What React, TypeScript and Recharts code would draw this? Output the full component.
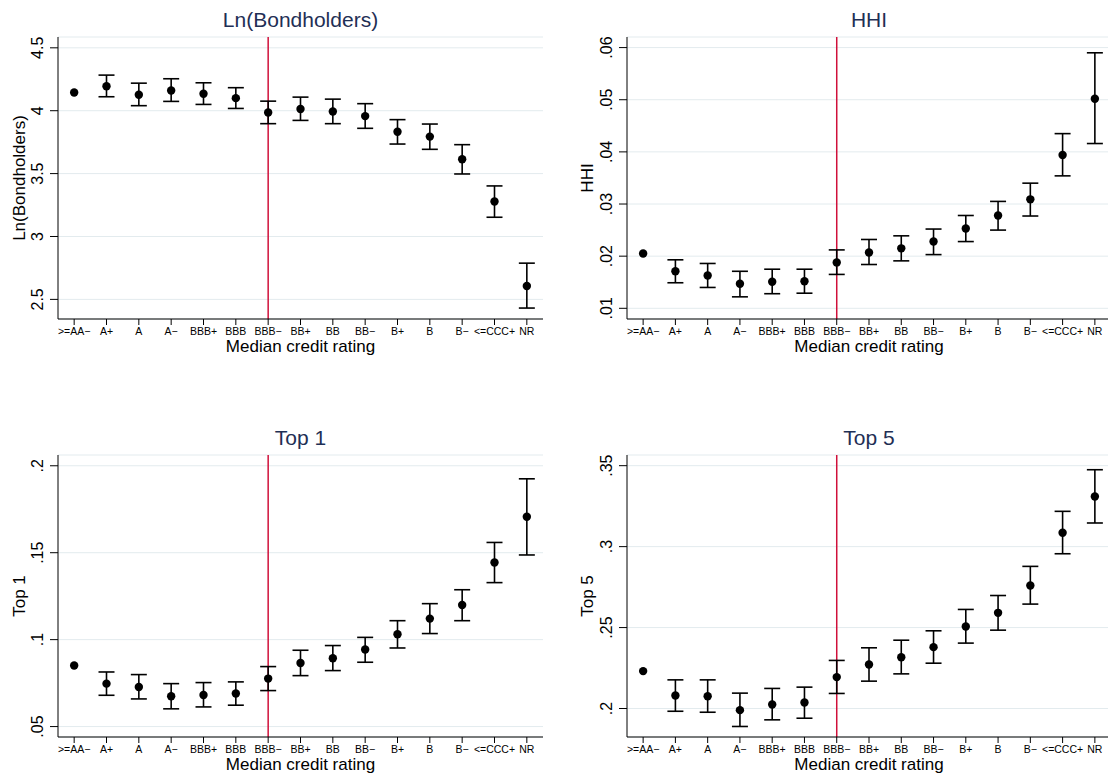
import React from "react";
import {
  ComposedChart,
  Scatter,
  XAxis,
  YAxis,
  CartesianGrid,
  ErrorBar,
  ReferenceLine,
} from "recharts";

// Credit rating buckets along the x axis
const ratings = [">=AA−", "A+", "A", "A−", "BBB+", "BBB", "BBB−", "BB+", "BB", "BB−", "B+", "B", "B−", "<=CCC+", "NR"];
const cutoffIndex = 6; // BBB− : investment-grade boundary

// Ln(Bondholders)
const bondEst = [4.145, 4.195, 4.127, 4.161, 4.135, 4.1, 3.986, 4.013, 3.994, 3.957, 3.833, 3.794, 3.614, 3.278, 2.606];
const bondLo = [null, 4.111, 4.04, 4.074, 4.05, 4.018, 3.897, 3.923, 3.897, 3.86, 3.735, 3.693, 3.497, 3.153, 2.431];
const bondHi = [null, 4.283, 4.219, 4.254, 4.222, 4.183, 4.076, 4.108, 4.092, 4.056, 3.929, 3.894, 3.73, 3.402, 2.788];
const bondTicks = [2.5, 3, 3.5, 4, 4.5];
const bondTickLabels = ["2.5", "3", "3.5", "4", "4.5"];

// HHI
const hhiEst = [0.0205, 0.0171, 0.0163, 0.0147, 0.0151, 0.0152, 0.0188, 0.0207, 0.0215, 0.0228, 0.0253, 0.0278, 0.0309, 0.0394, 0.0502];
const hhiLo = [null, 0.0149, 0.014, 0.0122, 0.0128, 0.0129, 0.0165, 0.0184, 0.0191, 0.0203, 0.0228, 0.025, 0.0277, 0.0354, 0.0416];
const hhiHi = [null, 0.0193, 0.0186, 0.0171, 0.0175, 0.0175, 0.0212, 0.0232, 0.0239, 0.0252, 0.0278, 0.0305, 0.034, 0.0435, 0.059];
const hhiTicks = [0.01, 0.02, 0.03, 0.04, 0.05, 0.06];
const hhiTickLabels = [".01", ".02", ".03", ".04", ".05", ".06"];

// Top 1
const top1Est = [0.0851, 0.0747, 0.0728, 0.0674, 0.0682, 0.069, 0.0776, 0.0866, 0.0893, 0.0943, 0.1031, 0.1121, 0.1199, 0.1444, 0.1707];
const top1Lo = [null, 0.068, 0.0659, 0.0602, 0.0613, 0.0623, 0.0707, 0.0793, 0.0822, 0.087, 0.0952, 0.1035, 0.1109, 0.1328, 0.1487];
const top1Hi = [null, 0.0814, 0.0799, 0.0747, 0.0753, 0.0757, 0.0845, 0.0939, 0.0966, 0.1013, 0.1109, 0.1207, 0.1287, 0.1559, 0.1925];
const top1Ticks = [0.05, 0.1, 0.15, 0.2];
const top1TickLabels = [".05", ".1", ".15", ".2"];

// Top 5
const top5Est = [0.2231, 0.208, 0.2076, 0.199, 0.2025, 0.2037, 0.2194, 0.2272, 0.2317, 0.2379, 0.2507, 0.2591, 0.276, 0.3086, 0.331];
const top5Lo = [null, 0.1983, 0.1977, 0.1889, 0.193, 0.194, 0.2093, 0.2169, 0.2214, 0.228, 0.2404, 0.2484, 0.2645, 0.2956, 0.3146];
const top5Hi = [null, 0.2177, 0.2177, 0.2095, 0.2124, 0.2132, 0.2297, 0.2375, 0.2422, 0.248, 0.2612, 0.2698, 0.2878, 0.3218, 0.3475];
const top5Ticks = [0.2, 0.25, 0.3, 0.35];
const top5TickLabels = [".2", ".25", ".3", ".35"];

const FONT = "'Liberation Sans', Arial, Helvetica, sans-serif";
const TITLE_COLOR = "#1f2f55";
const GRID_COLOR = "#e3ebee";
const CUT_COLOR = "#d0103a";
const xTicks = ratings.map((_, i) => i);

type PanelProps = {
  left: number;
  top: number;
  width: number;
  yAxisWidth: number;
  marginRight: number;
  ylabel: string;
  ylabelOffset: number;
  est: number[];
  lo: (number | null)[];
  hi: (number | null)[];
  domain: [number, number];
  ticks: number[];
  tickLabels: string[];
};

const HEIGHT = 362;

function Panel(p: PanelProps) {
  const rows = p.est.map((v, i) => ({
    x: i,
    y: v,
    err: p.lo[i] == null || p.hi[i] == null ? undefined : [v - (p.lo[i] as number), (p.hi[i] as number) - v],
  }));
  const labelFor = (v: number) => {
    const k = p.ticks.findIndex((t) => Math.abs(t - v) < 1e-9);
    return k >= 0 ? p.tickLabels[k] : String(v);
  };
  const YTick = (props: any) => {
    const { x, y, payload } = props;
    return (
      <text
        transform={`translate(${x - 5},${y}) rotate(-90)`}
        textAnchor="middle"
        fontSize={16}
        fill="#000"
        fontFamily={FONT}
      >
        {labelFor(payload.value)}
      </text>
    );
  };
  return (
    <div style={{ position: "absolute", left: p.left, top: p.top }}>
      <ComposedChart
        width={p.width}
        height={HEIGHT}
        data={rows}
        margin={{ top: 37, right: p.marginRight, left: 0, bottom: 0 }}
      >
        <CartesianGrid vertical={false} stroke={GRID_COLOR} strokeWidth={1} />
        <XAxis
          type="number"
          dataKey="x"
          domain={[-0.5, 14.5]}
          ticks={xTicks}
          interval={0}
          height={43}
          tickSize={6}
          tickMargin={3}
          stroke="#000"
          tickLine={{ stroke: "#000" }}
          tick={{ fontSize: 10.5, fill: "#000", fontFamily: FONT }}
          tickFormatter={(v: number) => ratings[v] ?? ""}
          label={{
            value: "Median credit rating",
            position: "insideBottom",
            offset: 10,
            style: { fontSize: 17, fill: "#000", fontFamily: FONT },
          }}
        />
        <YAxis
          type="number"
          dataKey="y"
          domain={p.domain}
          ticks={p.ticks}
          interval={0}
          allowDataOverflow
          width={p.yAxisWidth}
          tickSize={8}
          tickMargin={2}
          stroke="#000"
          tickLine={{ stroke: "#000" }}
          tick={YTick}
          label={{
            value: p.ylabel,
            angle: -90,
            position: "insideLeft",
            offset: p.ylabelOffset,
            style: { fontSize: 17, fill: "#000", fontFamily: FONT, textAnchor: "middle" },
          }}
        />
        <ReferenceLine x={cutoffIndex} stroke={CUT_COLOR} strokeWidth={1.5} />
        <Scatter
          data={rows}
          dataKey="y"
          fill="#000"
          isAnimationActive={false}
          shape={(s: any) => <circle cx={s.cx} cy={s.cy} r={4.2} fill="#000" />}
        >
          <ErrorBar dataKey="err" direction="y" width={8} stroke="#000" strokeWidth={1.6} />
        </Scatter>
      </ComposedChart>
    </div>
  );
}

const titles = [
  { text: "Ln(Bondholders)", x: 300.5, y: 27 },
  { text: "HHI", x: 869, y: 27 },
  { text: "Top 1", x: 300.5, y: 445 },
  { text: "Top 5", x: 869, y: 445 },
];

export default function App() {
  return (
    <div
      style={{
        position: "absolute",
        left: 0,
        top: 0,
        width: 1108,
        height: 783,
        overflow: "hidden",
        background: "#fff",
        fontFamily: FONT,
      }}
    >
      <Panel
        left={0}
        top={0}
        width={554}
        yAxisWidth={58}
        marginRight={11}
        ylabel="Ln(Bondholders)"
        ylabelOffset={18.5}
        est={bondEst}
        lo={bondLo}
        hi={bondHi}
        domain={[2.344, 4.586]}
        ticks={bondTicks}
        tickLabels={bondTickLabels}
      />
      <Panel
        left={554}
        top={0}
        width={557}
        yAxisWidth={73}
        marginRight={0}
        ylabel="HHI"
        ylabelOffset={32.5}
        est={hhiEst}
        lo={hhiLo}
        hi={hhiHi}
        domain={[0.00795, 0.06203]}
        ticks={hhiTicks}
        tickLabels={hhiTickLabels}
      />
      <Panel
        left={0}
        top={418}
        width={554}
        yAxisWidth={58}
        marginRight={11}
        ylabel="Top 1"
        ylabelOffset={18.5}
        est={top1Est}
        lo={top1Lo}
        hi={top1Hi}
        domain={[0.044, 0.2062]}
        ticks={top1Ticks}
        tickLabels={top1TickLabels}
      />
      <Panel
        left={554}
        top={418}
        width={557}
        yAxisWidth={73}
        marginRight={0}
        ylabel="Top 5"
        ylabelOffset={32.5}
        est={top5Est}
        lo={top5Lo}
        hi={top5Hi}
        domain={[0.1824, 0.3566]}
        ticks={top5Ticks}
        tickLabels={top5TickLabels}
      />
      <svg
        width={1108}
        height={783}
        style={{ position: "absolute", left: 0, top: 0, pointerEvents: "none" }}
      >
        {titles.map((t) => (
          <text
            key={t.text}
            x={t.x}
            y={t.y}
            textAnchor="middle"
            fontSize={21}
            fill={TITLE_COLOR}
            fontFamily={FONT}
          >
            {t.text}
          </text>
        ))}
      </svg>
    </div>
  );
}
